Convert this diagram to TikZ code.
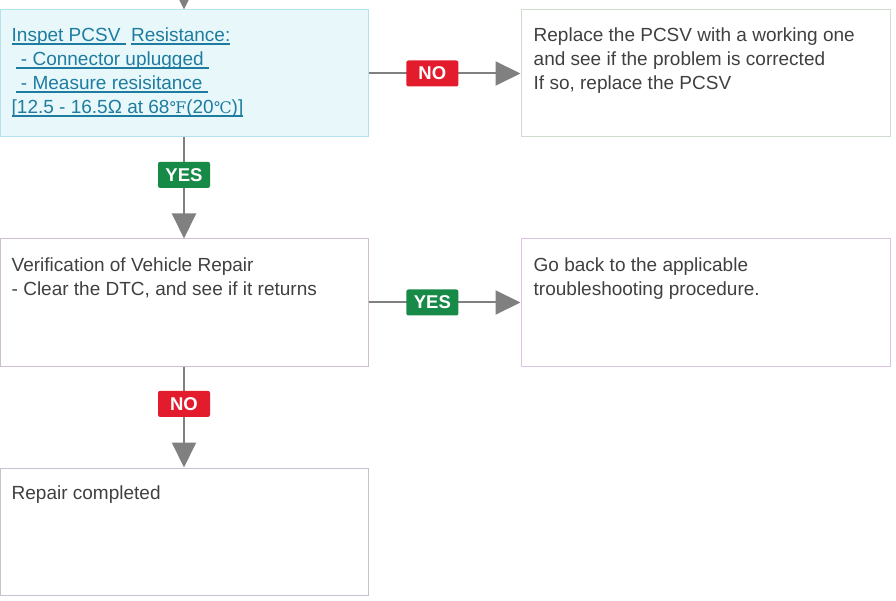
\documentclass[tikz,border=0pt]{standalone}
\usepackage{xcolor}
\usepackage{fontspec}
\setmainfont{Liberation Sans}
\newfontfamily\symfont{DejaVu Serif}
\usepackage{tikz}
\usetikzlibrary{arrows.meta}
\usetikzlibrary{positioning}

\definecolor{txtgray}{RGB}{64,64,64}
\definecolor{linkblue}{RGB}{30,124,160}
\definecolor{linegray}{RGB}{128,128,128}
\definecolor{nored}{RGB}{226,28,44}
\definecolor{yesgreen}{RGB}{24,138,72}
\definecolor{cyanfill}{RGB}{232,248,250}
\definecolor{cyanline}{RGB}{180,225,235}
\definecolor{greenline}{RGB}{205,220,205}
\definecolor{pinkline}{RGB}{205,190,205}
\definecolor{lilacline}{RGB}{220,195,225}
\definecolor{grayline}{RGB}{195,195,205}

\newcommand{\ulin}[1]{\setbox0\hbox{#1}\rlap{\rule[-3.5pt]{\wd0}{1.6pt}}\box0}
\newcommand{\degf}{{\symfont\fontsize{16}{16}\selectfont ℉}}
\newcommand{\degc}{{\symfont\fontsize{16}{16}\selectfont ℃}}

\tikzset{
    box/.style={draw, minimum width=368pt, minimum height=127pt, inner sep=0, line width=1pt},
    txt/.style={anchor=north west, inner sep=0, align=left, text=txtgray, font=\fontsize{19}{24}\selectfont},
    tag/.style={rounded corners=2pt, minimum width=52pt, minimum height=26pt, inner sep=0, text=white, font=\fontsize{18.5}{18.5}\selectfont\bfseries},
    flow/.style={draw=linegray, line width=2pt, -{Triangle[length=25pt,width=24pt]}},
}

\begin{document}
\begin{tikzpicture}[x=1pt,y=-1pt]
    \useasboundingbox (0,0) rectangle (896,601);

    \node(c)[box,draw=cyanline,fill=cyanfill] at (184,73.5) {};
    \node(r)[box,draw=greenline,minimum width=369pt] at (705.5,73.5) {};
    \node(v)[box,draw=pinkline] at (184,302.5) {};
    \node(g)[box,draw=lilacline,minimum width=369pt] at (705.5,302.5) {};
    \node(d)[box,draw=grayline] at (184,531.5) {};

    \node(ct)[txt,text=linkblue] at ([xshift=12pt,yshift=-18pt]c.north west) {\ulin{Inspet PCSV\ }\ \ulin{Resistance:}\\
        \hspace*{4pt}\ulin{\ - Connector uplugged\ }\\
        \hspace*{4pt}\ulin{\ - Measure resisitance\ }\\
        \ulin{[12.5 - 16.5Ω at 68\degf(20\degc)]}};
    \node(rt)[txt] at ([xshift=13pt,yshift=-18pt]r.north west) {Replace the PCSV with a working one\\and see if the problem is corrected\\If so, replace the PCSV};
    \node(vt)[txt] at ([xshift=12pt,yshift=-19pt]v.north west) {Verification of Vehicle Repair\\- Clear the DTC, and see if it returns};
    \node(gt)[txt] at ([xshift=13pt,yshift=-19pt]g.north west) {Go back to the applicable\\troubleshooting procedure.};
    \node(dt)[txt] at ([xshift=12pt,yshift=-18pt]d.north west) {Repair completed};

    \coordinate(in) at (184,-60);
    \draw[flow] (in) -- (c.north);
    \draw[flow] (c.east) -- node[tag,fill=nored,pos=0.42]{NO} (r.west);
    \draw[flow] (c.south) -- node[tag,fill=yesgreen,pos=0.37]{YES} (v.north);
    \draw[flow] (v.east) -- node[tag,fill=yesgreen,pos=0.42]{YES} (g.west);
    \draw[flow] (v.south) -- node[tag,fill=nored,pos=0.37]{NO} (d.north);
\end{tikzpicture}
\end{document}
